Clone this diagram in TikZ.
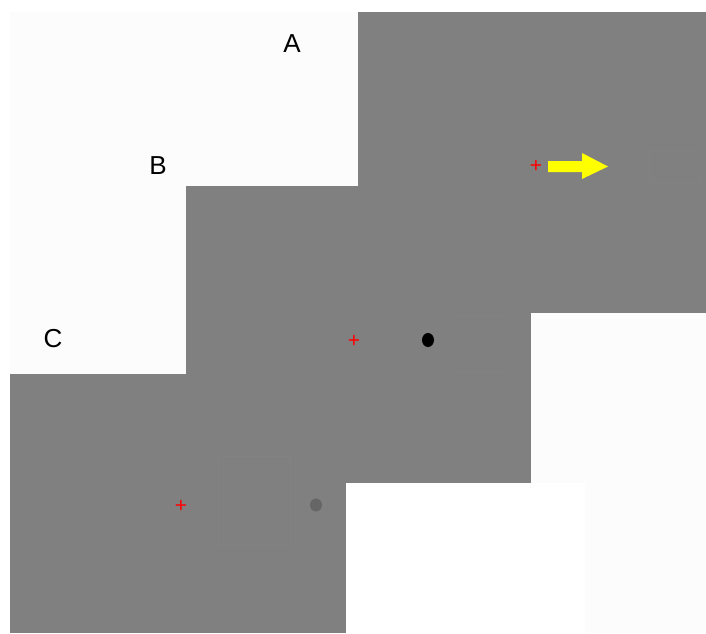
\documentclass[tikz,border=0pt]{standalone}
\usepackage{fontspec}
\setmainfont{Liberation Sans}
\usepackage{tikz}
\usetikzlibrary{positioning}
\definecolor{screen}{RGB}{128,128,128}
\definecolor{faint}{RGB}{130,130,130}
\definecolor{paper}{RGB}{252,252,252}
\definecolor{cue}{RGB}{255,255,0}
\tikzset{
  panel/.style={fill=screen,draw=none},
  fix/.style={red,font=\fontsize{21}{21}\selectfont,inner sep=0pt},
  letter/.style={font=\fontsize{26}{26}\selectfont,inner sep=0pt}
}
\begin{document}
\begin{tikzpicture}[x=1pt,y=-1pt]
\useasboundingbox (0,0) rectangle (706,633);
\fill[white] (0,0) rectangle (706,633);
\fill[paper] (10,12) rectangle (358,374);
\fill[paper] (531,313) rectangle (706,483);
\fill[paper] (585,483) rectangle (706,633);
\fill[panel] (358,12) rectangle (706,313);
\fill[panel] (186,186) rectangle (531,483);
\fill[panel] (10,374) rectangle (346,633);
\draw[faint] (649,150) rectangle (700,182);
\draw[faint] (452,316) rectangle (508,372);
\draw[faint] (218,456) rectangle (290,545);
\node[letter] (labA) at (292,44) {A};
\node[letter] (labB) at (158,166) {B};
\node[letter] (labC) at (53,339) {C};
\node[fix] (fixA) at (536,166) {+};
\node[fix] (fixB) at (354,341) {+};
\node[fix] (fixC) at (181,506) {+};
\fill[cue] (548,161) -- (582,161) -- (582,153) -- (608,166.5) -- (582,179) -- (582,172) -- (548,172) -- cycle;
\fill[black] (428,340) ellipse (6 and 7);
\fill[black!60] (316,505) ellipse (6 and 6.5);
\end{tikzpicture}
\end{document}
